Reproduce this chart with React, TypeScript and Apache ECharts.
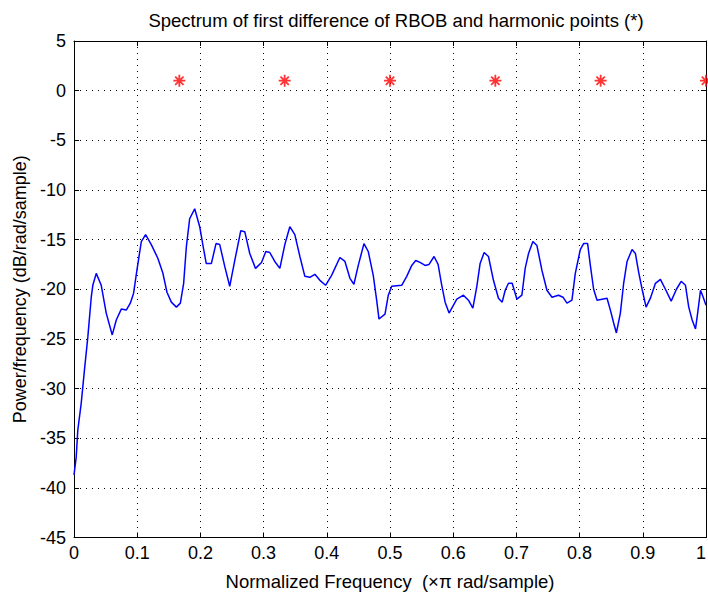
import React, { useEffect, useRef } from "react";
import * as echarts from "echarts";

const freq = [
  0, 0.0035, 0.006, 0.0114, 0.0166, 0.0219, 0.0273, 0.0298, 0.0352, 0.0431,
  0.051, 0.0605, 0.0669, 0.0748, 0.0827, 0.0891, 0.0943, 0.0995, 0.1065, 0.1133,
  0.1223, 0.1328, 0.1407, 0.1471, 0.154, 0.162, 0.1683, 0.1735, 0.1778, 0.183,
  0.191, 0.1989, 0.2041, 0.2092, 0.2174, 0.2247, 0.2306, 0.2385, 0.2464, 0.2544,
  0.2639, 0.2702, 0.2781, 0.2872, 0.2967, 0.3035, 0.3098, 0.3177, 0.3257, 0.3336,
  0.3415, 0.3494, 0.3574, 0.3653, 0.3732, 0.3811, 0.3891, 0.3981, 0.4076, 0.4207,
  0.4287, 0.4366, 0.4429, 0.4498, 0.4588, 0.4656, 0.4735, 0.4789, 0.4826, 0.4921,
  0.4973, 0.5027, 0.5185, 0.5265, 0.5344, 0.5407, 0.5475, 0.5555, 0.5618, 0.5697,
  0.5761, 0.5816, 0.5872, 0.5935, 0.5987, 0.6057, 0.6162, 0.6241, 0.6311, 0.6374,
  0.6426, 0.649, 0.6558, 0.6637, 0.6716, 0.6775, 0.6823, 0.6875, 0.6933, 0.7008,
  0.7087, 0.7139, 0.7192, 0.7261, 0.7325, 0.7404, 0.7483, 0.7563, 0.7667, 0.7737,
  0.78, 0.7879, 0.7932, 0.8011, 0.8063, 0.8127, 0.817, 0.8222, 0.8276, 0.8355,
  0.8434, 0.8487, 0.8539, 0.8582, 0.8645, 0.8697, 0.8751, 0.883, 0.8883, 0.8935,
  0.8989, 0.9052, 0.912, 0.92, 0.9279, 0.9358, 0.9449, 0.9532, 0.9607, 0.9675,
  0.9727, 0.9781, 0.9834, 0.987, 0.9913, 0.9956, 1.0,
];

const powerDb = [
  -38.7, -36.9, -34.2, -31.5, -28.1, -24.8, -20.8, -19.6, -18.4, -19.6,
  -22.4, -24.6, -23.1, -22.0, -22.1, -21.4, -20.4, -18.1, -15.2, -14.5,
  -15.5, -16.9, -18.4, -20.3, -21.3, -21.8, -21.4, -19.4, -15.7, -12.9,
  -11.9, -13.7, -15.6, -17.4, -17.4, -15.4, -15.5, -17.7, -19.7, -17.1,
  -14.1, -14.2, -16.4, -17.9, -17.3, -16.2, -16.3, -17.2, -17.9, -15.5,
  -13.7, -14.5, -16.7, -18.7, -18.8, -18.5, -19.1, -19.6, -18.6, -16.8,
  -17.2, -18.9, -19.5, -17.6, -15.4, -16.2, -18.6, -21.1, -23.0, -22.5,
  -20.6, -19.7, -19.6, -18.7, -17.6, -17.1, -17.3, -17.6, -17.5, -16.7,
  -17.5, -19.5, -21.3, -22.4, -21.8, -21.0, -20.6, -21.1, -21.9, -19.7,
  -17.4, -16.3, -16.7, -19.1, -20.9, -21.3, -20.1, -19.4, -19.4, -21.0,
  -20.6, -17.9, -16.4, -15.2, -15.6, -18.1, -20.1, -20.8, -20.6, -20.8,
  -21.4, -21.1, -18.4, -16.0, -15.4, -15.4, -17.6, -20.0, -21.1, -21.0,
  -20.9, -22.1, -23.4, -24.4, -22.4, -19.4, -17.2, -16.0, -16.4, -18.3,
  -20.0, -21.8, -20.9, -19.4, -19.0, -20.0, -21.2, -20.0, -19.2, -19.6,
  -21.8, -23.1, -24.0, -22.3, -20.1, -20.8, -21.6,
];

const harmonicFreq = [0.1667, 0.3333, 0.5, 0.6667, 0.8333, 1.0];
const harmonicValue = [1, 1, 1, 1, 1, 1];

const xTickLabels = ["0", "0.1", "0.2", "0.3", "0.4", "0.5", "0.6", "0.7", "0.8", "0.9", "1"];
const yTickLabels = ["-45", "-40", "-35", "-30", "-25", "-20", "-15", "-10", "-5", "0", "5"];

const titleText = "Spectrum of first difference of RBOB and harmonic points (*)";
const xName = "Normalized Frequency  (\u00d7\u03c0 rad/sample)";
const yName = "Power/frequency (dB/rad/sample)";

const FONT = "'Liberation Sans', Arial, Helvetica, sans-serif";
const FS = 18;

export default function App() {
  const ref = useRef<HTMLDivElement>(null);
  useEffect(() => {
    if (!ref.current) return;
    const chart = echarts.init(ref.current, undefined, { renderer: "svg" });
    const gridLine = { show: true, lineStyle: { color: "#000", width: 1, type: [1, 5] as any } };
    const xLabelFmt = (v: number) => {
      const i = Math.round(v * 10);
      return xTickLabels[i] ?? "";
    };
    const yLabelFmt = (v: number) => {
      const i = Math.round((v + 45) / 5);
      return yTickLabels[i] ?? "";
    };
    const tick = { show: true, inside: true, length: 5, lineStyle: { color: "#000", width: 1 } };
    chart.setOption({
      animation: false,
      backgroundColor: "#fff",
      textStyle: { fontFamily: FONT },
      title: {
        text: titleText,
        left: 391,
        top: 6,
        textAlign: "center",
        textStyle: { fontFamily: FONT, fontSize: 18.5, fontWeight: "normal", color: "#000" },
      },
      grid: {
        left: 74,
        right: 2,
        top: 41,
        bottom: 58.5,
        containLabel: false,
        outerBoundsMode: "none",
      },
      xAxis: [
        {
          type: "value",
          min: 0,
          max: 1,
          interval: 0.1,
          position: "bottom",
          name: xName,
          nameLocation: "middle",
          nameGap: 34,
          nameTextStyle: { fontFamily: FONT, fontSize: 18.5, color: "#000" },
          axisLine: { show: true, onZero: false, lineStyle: { color: "#000", width: 1 } },
          axisTick: tick,
          axisLabel: {
            formatter: xLabelFmt,
            fontFamily: FONT,
            fontSize: FS,
            color: "#000",
            margin: 6,
            alignMaxLabel: "right",
          },
          splitLine: gridLine,
        },
        {
          type: "value",
          min: 0,
          max: 1,
          interval: 0.1,
          position: "top",
          axisLine: { show: true, onZero: false, lineStyle: { color: "#000", width: 1 } },
          axisTick: tick,
          axisLabel: { show: false },
          splitLine: { show: false },
        },
      ],
      yAxis: [
        {
          type: "value",
          min: -45,
          max: 5,
          interval: 5,
          position: "left",
          name: yName,
          nameLocation: "middle",
          nameGap: 45,
          nameTextStyle: { fontFamily: FONT, fontSize: FS, color: "#000" },
          axisLine: { show: true, onZero: false, lineStyle: { color: "#000", width: 1 } },
          axisTick: tick,
          axisLabel: { formatter: yLabelFmt, fontFamily: FONT, fontSize: FS, color: "#000", margin: 8 },
          splitLine: gridLine,
        },
        {
          type: "value",
          min: -45,
          max: 5,
          interval: 5,
          position: "right",
          axisLine: { show: true, onZero: false, lineStyle: { color: "#000", width: 1 } },
          axisTick: tick,
          axisLabel: { show: false },
          splitLine: { show: false },
        },
      ],
      series: [
        {
          type: "line",
          data: freq.map((f, i) => [f, powerDb[i]]),
          showSymbol: false,
          symbol: "none",
          lineStyle: { color: "#0000ff", width: 1.5 },
          z: 3,
        },
        {
          type: "scatter",
          data: harmonicFreq.map((f, i) => [f, harmonicValue[i]]),
          symbol: "path://M6,0 L6,12 M0,6 L12,6 M1.8,1.8 L10.2,10.2 M1.8,10.2 L10.2,1.8",
          symbolSize: 12,
          clip: false,
          itemStyle: { color: "none", borderColor: "#ff0000", borderWidth: 1.8 },
          z: 4,
        },
      ],
    });
    return () => chart.dispose();
  }, []);
  return (
    <div
      ref={ref}
      style={{ position: "fixed", left: 0, top: 0, width: 708, height: 596, background: "#fff" }}
    />
  );
}
